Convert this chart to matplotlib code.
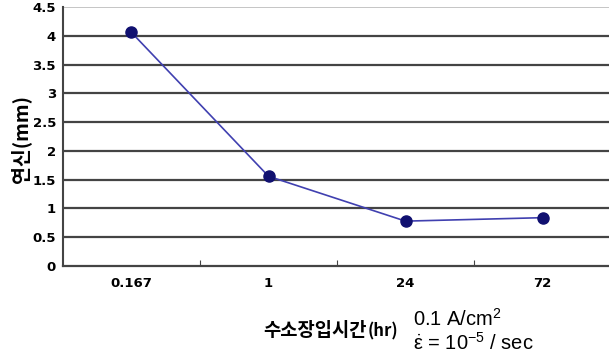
"""Elongation vs hydrogen charging time
"""
import matplotlib
matplotlib.use('Agg')
import matplotlib.pyplot as plt
from matplotlib.ticker import FixedLocator

plt.rcParams['font.family'] = ['Noto Sans CJK KR', 'DejaVu Sans']
plt.rcParams['mathtext.fontset'] = 'custom'
plt.rcParams['mathtext.rm'] = 'Liberation Sans'
plt.rcParams['mathtext.it'] = 'Liberation Sans'

# Data
categories = ['0.167', '1', '24', '72']
elongation = [4.06, 1.56, 0.78, 0.84]
y_ticks = [0, 0.5, 1, 1.5, 2, 2.5, 3, 3.5, 4, 4.5]
y_tick_labels = ['0', '0.5', '1', '1.5', '2', '2.5', '3', '3.5', '4', '4.5']

fig = plt.figure(figsize=(6.09, 3.58), dpi=100)
ax = fig.add_axes([0.1034, 0.257, 0.90, 0.723])

xs = [i + 0.5 for i in range(len(categories))]
ax.plot(xs, elongation, color='#4040b0', linewidth=1.2, zorder=3)
ax.plot(xs, elongation, linestyle='none', marker='o', markersize=8,
        color='#101070', zorder=4)

ax.set_xlim(0, len(categories))
ax.set_ylim(0, 4.5)

# Gridlines
for y in y_ticks[1:-1]:
    ax.axhline(y, color='#444444', linewidth=1.6, zorder=1)
ax.axhline(4.5, color='#bbbbbb', linewidth=1.2, zorder=1)

for side in ['top', 'right']:
    ax.spines[side].set_visible(False)
ax.spines['left'].set_color('#444444')
ax.spines['left'].set_linewidth(1.5)
ax.spines['bottom'].set_color('#444444')
ax.spines['bottom'].set_linewidth(1.6)

ax.yaxis.set_major_locator(FixedLocator(y_ticks))
ax.set_yticklabels(y_tick_labels, fontsize=9.5, fontweight='bold',
                   family='DejaVu Sans')
ax.tick_params(axis='y', length=0, pad=5)

ax.xaxis.set_major_locator(FixedLocator([1, 2, 3]))
ax.xaxis.set_minor_locator(FixedLocator(xs))
ax.set_xticklabels([], minor=False)
ax.set_xticklabels(categories, minor=True, fontsize=9.5, fontweight='bold',
                   family='DejaVu Sans')
ax.tick_params(axis='x', which='major', direction='in', length=4,
               color='#444444')
ax.tick_params(axis='x', which='minor', length=0, pad=8)

ax.set_ylabel('연신(mm)', fontsize=14, fontweight='bold')
ax.yaxis.set_label_coords(-0.058, 0.49)

fig.text(0.432, 0.078, '수소장입시간', fontsize=13.5, fontweight='bold',
         ha='left', va='center')
fig.text(0.603, 0.074, '(hr)', fontsize=12, fontweight='bold',
         ha='left', va='center')
fig.text(0.678, 0.108, '0.1 A/cm$^2$', fontsize=14.5,
         family='Liberation Sans', ha='left', va='center')
fig.text(0.678, 0.042, r'$\dot{\epsilon}$ = 10$^{-5}$ / sec', fontsize=14.5,
         family='Liberation Sans', ha='left', va='center')

plt.savefig('out.png', dpi=100)
